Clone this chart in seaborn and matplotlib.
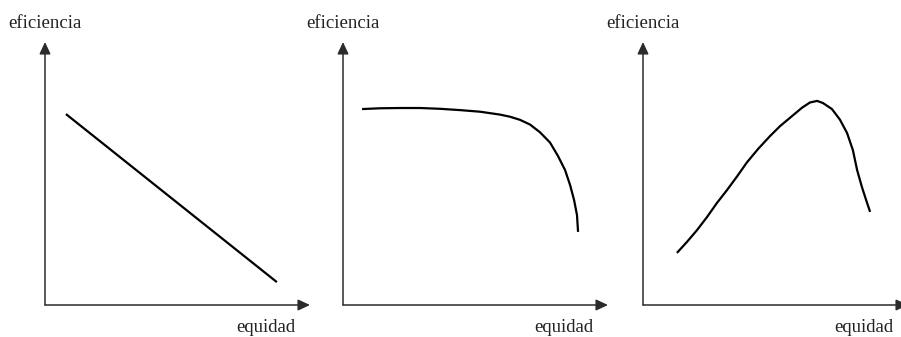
import numpy as np
import pandas as pd
import matplotlib
matplotlib.use("Agg")
import matplotlib.pyplot as plt
import seaborn as sns

# curve points (0-10 scale from axis origin)
p1_x = [0.79, 8.75]
p1_y = [7.26, 0.87]

p2_x = [0.72, 1.40, 2.15, 2.91, 3.66, 4.42, 5.17, 5.92, 6.30, 6.68, 7.06, 7.43,
        7.81, 8.11, 8.38, 8.57, 8.72, 8.83, 8.87]
p2_y = [7.45, 7.48, 7.49, 7.49, 7.46, 7.41, 7.35, 7.24, 7.16, 7.04, 6.86, 6.57,
        6.18, 5.67, 5.13, 4.56, 3.99, 3.42, 2.78]

p3_x = [1.28, 1.66, 2.04, 2.42, 2.79, 3.17, 3.55, 3.92, 4.34, 4.79, 5.17, 5.62,
        6.00, 6.30, 6.57, 6.79, 7.13, 7.43, 7.70, 7.92, 8.08, 8.26, 8.42, 8.57]
p3_y = [1.98, 2.40, 2.85, 3.35, 3.88, 4.37, 4.89, 5.42, 5.93, 6.42, 6.80, 7.18,
        7.50, 7.70, 7.76, 7.68, 7.45, 7.05, 6.54, 5.89, 5.13, 4.49, 3.99, 3.54]

y_label = "eficiencia"
x_label = "equidad"

sns.set_style("white")
plt.rcParams['font.family'] = ['Liberation Serif', 'DejaVu Serif']

W, H = 901, 337
fig = plt.figure(figsize=(W / 100, H / 100), dpi=100)

# axis origins in pixels
origins = [45, 343, 643]
aw, ah = 265, 263
oy = 305

curves = [(p1_x, p1_y), (p2_x, p2_y), (p3_x, p3_y)]

for ox, (xs, ys) in zip(origins, curves):
    ax = fig.add_axes([ox / W, (H - oy) / H, aw / W, ah / H])
    df = pd.DataFrame({'x': xs, 'y': ys})
    sns.lineplot(data=df, x='x', y='y', sort=False, color='black', lw=1.6,
                 solid_joinstyle='round', solid_capstyle='butt', ax=ax)
    ax.set_xlim(0, 10)
    ax.set_ylim(0, 10)
    ax.set_xticks([])
    ax.set_yticks([])
    ax.set_xlabel('')
    ax.set_ylabel('')
    for s in ax.spines.values():
        s.set_visible(False)

    arrow = dict(arrowstyle='-|>,head_length=0.6,head_width=0.28', color='#2b2b2b',
                 lw=1.1, mutation_scale=12, shrinkA=0, shrinkB=0)
    ax.annotate('', xy=(1, 0), xytext=(0, 0), xycoords='axes fraction',
                arrowprops=arrow, annotation_clip=False)
    ax.annotate('', xy=(0, 1), xytext=(0, 0), xycoords='axes fraction',
                arrowprops=arrow, annotation_clip=False)

    ax.text(-37 / aw, (oy - 24) / ah, y_label, transform=ax.transAxes,
            ha='left', va='center', fontsize=13.5, color='#222222')
    ax.text(1 - 15 / aw, -23 / ah, x_label, transform=ax.transAxes,
            ha='right', va='center', fontsize=13.5, color='#222222')

fig.savefig('out.png', dpi=100)
